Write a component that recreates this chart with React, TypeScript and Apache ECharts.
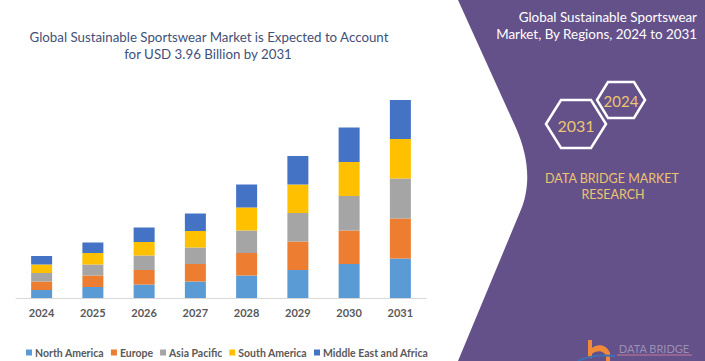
import React, { useEffect, useRef } from "react";
import * as echarts from "echarts";

const years = ["2024", "2025", "2026", "2027", "2028", "2029", "2030", "2031"];
const northAmerica = [0.16, 0.22, 0.27, 0.33, 0.45, 0.56, 0.68, 0.79];
const europe = [0.17, 0.23, 0.29, 0.35, 0.45, 0.57, 0.67, 0.8];
const asiaPacific = [0.17, 0.22, 0.29, 0.33, 0.45, 0.57, 0.69, 0.8];
const southAmerica = [0.17, 0.23, 0.27, 0.33, 0.46, 0.57, 0.68, 0.79];
const middleEastAfrica = [0.17, 0.21, 0.29, 0.35, 0.46, 0.57, 0.69, 0.78];

const seriesNames = ["North America", "Europe", "Asia Pacific", "South America", "Middle East and Africa"];
const seriesColors = ["#5B9BD5", "#ED7D31", "#A5A5A5", "#FFC000", "#4472C4"];
const seriesData = [northAmerica, europe, asiaPacific, southAmerica, middleEastAfrica];

const PANEL_D =
  "M458 0 L516 128 C528 155 532 185 520 212 L458 361 L705 361 L705 0 Z";
const LOGO_D =
  "M588 340 L592 340 L592 348 C598 343 607 345 610 353 L610 361 L606 361 L606 356 C604 350 596 350 592 354 L592 358 L588 358 Z";

let registered = false;
function registerShapes() {
  if (registered) return;
  echarts.graphic.registerShape("panelShape", echarts.graphic.extendPath(PANEL_D, {}) as any);
  echarts.graphic.registerShape("logoShape", echarts.graphic.extendPath(LOGO_D, {}) as any);
  registered = true;
}

function txt(text: string, x: number, y: number, size: number, fill: string, align = "center", weight = "normal") {
  return {
    type: "text",
    z: 10,
    style: {
      text,
      x,
      y,
      fill,
      fontSize: size,
      fontFamily: "Lato",
      fontWeight: weight,
      textAlign: align,
      align,
      textVerticalAlign: "middle",
      verticalAlign: "middle",
    },
  };
}

function hex(cx: number, cy: number, hw: number, hh: number, tw: number) {
  return {
    type: "polygon",
    z: 5,
    shape: {
      points: [
        [cx - hw, cy],
        [cx - tw, cy - hh],
        [cx + tw, cy - hh],
        [cx + hw, cy],
        [cx + tw, cy + hh],
        [cx - tw, cy + hh],
      ],
    },
    style: { fill: "none", stroke: "#FFFFFF", lineWidth: 2.5 },
  };
}

export default function App() {
  const ref = useRef<HTMLDivElement>(null);
  useEffect(() => {
    if (!ref.current) return;
    registerShapes();
    const chart = echarts.init(ref.current, null, { renderer: "svg" });
    const gold = "#EBC56F";
    chart.setOption({
      animation: false,
      backgroundColor: "#FFFFFF",
      grid: { left: 16, right: 279, top: 98, bottom: 63, containLabel: false },
      xAxis: {
        type: "category",
        data: years,
        axisLine: { lineStyle: { color: "#D9D9D9", width: 1 } },
        axisTick: { show: false },
        axisLabel: { color: "#595959", fontSize: 11, fontWeight: "bold", fontFamily: "Lato", margin: 9 },
      },
      yAxis: { type: "value", min: 0, max: 4, show: false, splitLine: { show: false } },
      legend: {
        left: 21,
        top: 342,
        itemWidth: 6,
        itemHeight: 6,
        itemGap: 7,
        icon: "rect",
        textStyle: { color: "#595959", fontSize: 10.5, fontWeight: "bold", fontFamily: "Lato", padding: [0, 0, 0, -2] },
        data: seriesNames,
      },
      series: seriesNames.map((name, i) => ({
        name,
        type: "bar",
        stack: "total",
        barWidth: 21,
        data: seriesData[i],
        itemStyle: { color: seriesColors[i] },
      })),
      graphic: [
        { type: "panelShape", x: 0, y: 0, z: 1, style: { fill: "#65518A" } },
        txt("Global Sustainable Sportswear Market is Expected to Account", 209, 37, 13.3, "#3F5178"),
        txt("for USD 3.96 Billion by 2031", 208, 54, 13.3, "#3F5178"),
        txt("Global Sustainable Sportswear", 697, 17, 13.4, "#FFFFFF", "right"),
        txt("Market, By Regions, 2024 to 2031", 697, 34, 13.4, "#FFFFFF", "right"),
        hex(576, 124, 30, 24, 15),
        hex(621, 100, 24, 18, 13),
        txt("2031", 576, 125, 16, gold),
        txt("2024", 621, 101, 15, gold),
        txt("DATA BRIDGE MARKET", 612, 178, 12.5, gold),
        txt("RESEARCH", 613, 194, 12.5, gold),
        { type: "logoShape", x: 0, y: 0, z: 6, style: { fill: "#F08A3A" } },
        {
          type: "bezierCurve",
          z: 6,
          shape: { x1: 578, y1: 361, x2: 615, y2: 356, cpx1: 592, cpy1: 354 },
          style: { stroke: "#3F6FB0", lineWidth: 2, fill: "none" },
        },
        txt("DATA BRIDGE", 654, 348, 11, "#9A8FB3"),
        {
          type: "line",
          z: 6,
          shape: { x1: 617, y1: 355, x2: 692, y2: 355 },
          style: { stroke: "#C47A9A", lineWidth: 1 },
        },
      ],
    });
    return () => chart.dispose();
  }, []);
  return (
    <div
      ref={ref}
      style={{ position: "fixed", left: 0, top: 0, width: 705, height: 361 }}
    />
  );
}
